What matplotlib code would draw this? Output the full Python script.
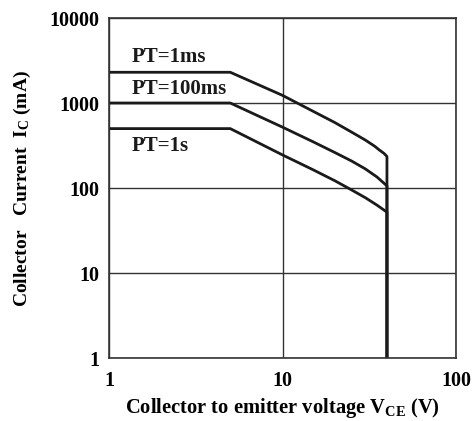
import matplotlib
matplotlib.use('Agg')
import matplotlib.pyplot as plt

plt.rcParams['font.family'] = 'Liberation Serif'
plt.rcParams['font.weight'] = 'bold'
plt.rcParams['mathtext.fontset'] = 'custom'
plt.rcParams['mathtext.rm'] = 'Liberation Serif:bold'
plt.rcParams['mathtext.it'] = 'Liberation Serif:bold'
plt.rcParams['mathtext.bf'] = 'Liberation Serif:bold'

# safe operating area curves
vce_1ms = [1, 5, 10, 15, 20, 25, 30, 34, 36, 38.5, 40, 40]
ic_1ms = [2300, 2300, 1230, 800, 590, 455, 367, 310, 282, 255, 235, 1]

vce_100ms = [1, 5, 10, 15, 20, 25, 30, 35, 40, 40]
ic_100ms = [1000, 1000, 520, 350, 262, 208, 168, 135, 106, 1]

vce_1s = [1, 5, 10, 15, 20, 25, 30, 35, 40, 40]
ic_1s = [500, 500, 245, 164, 122, 95, 77, 63, 52, 1]

labels = ['PT=1ms', 'PT=100ms', 'PT=1s']
label_pos = [(1.35, 3500), (1.35, 1480), (1.35, 310)]

fig = plt.figure(figsize=(4.75, 4.21), dpi=100)
ax = fig.add_axes([0.2295, 0.1496, 0.7305, 0.8076])

for xs, ys in [(vce_1ms, ic_1ms), (vce_100ms, ic_100ms), (vce_1s, ic_1s)]:
    ax.plot(xs, ys, color='#1a1a1a', lw=2.0, solid_joinstyle='round')

ax.set_xscale('log')
ax.set_yscale('log')
ax.set_xlim(1, 100)
ax.set_ylim(1, 10000)
ax.set_xticks([1, 10, 100])
ax.set_xticklabels(['1', '10', '100'])
ax.set_yticks([1, 10, 100, 1000, 10000])
ax.set_yticklabels(['1', '10', '100', '1000', '10000'])
ax.minorticks_off()
ax.tick_params(length=0, labelsize=14.5)
ax.tick_params(axis='x', pad=9)
ax.tick_params(axis='y', pad=7)
ax.grid(True, color='#333333', lw=1.0)

for sp in ax.spines.values():
    sp.set_color('#333333')
    sp.set_linewidth(1.2)

for txt, (x, y) in zip(labels, label_pos):
    ax.text(x, y, txt, fontsize=15, fontweight='bold', va='center', ha='left', color='#1a1a1a')

ax.set_xlabel('Collector to emitter voltage V$_{CE}$ (V)', fontsize=14.8, fontweight='bold', labelpad=4)
ax.set_ylabel('Collector   Current  I$_C$ (mA)', fontsize=14, fontweight='bold', labelpad=12)

fig.savefig('out.png', dpi=100)
